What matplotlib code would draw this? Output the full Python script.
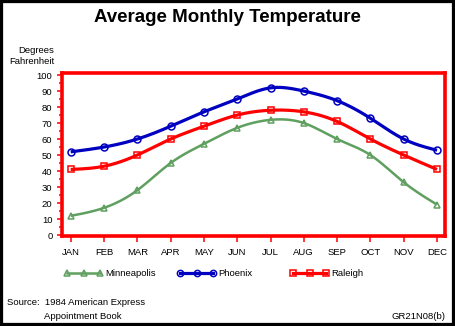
import numpy as np
import matplotlib
matplotlib.use("Agg")
import matplotlib.pyplot as plt
from matplotlib.lines import Line2D
from matplotlib.patches import Rectangle
from matplotlib.ticker import MultipleLocator

plt.rcParams['font.family'] = ['Liberation Sans', 'DejaVu Sans']

months = ["JAN", "FEB", "MAR", "APR", "MAY", "JUN",
          "JUL", "AUG", "SEP", "OCT", "NOV", "DEC"]
minneapolis = [12, 17, 28, 45, 57, 67, 72, 70, 60, 50, 33, 19]
phoenix = [52, 55, 60, 68, 77, 85, 92, 90, 84, 73, 60, 53]
raleigh = [41, 43, 50, 60, 68, 75, 78, 77, 71, 60, 50, 41]

series = [
    ("Minneapolis", minneapolis, "#5f9f5f", "^", 1.8),
    ("Phoenix", phoenix, "#0000c0", "o", 2.3),
    ("Raleigh", raleigh, "#ff0000", "s", 2.3),
]


def natural_spline(x, y, num=300):
    """Natural cubic spline through (x, y), sampled at num points."""
    x = np.asarray(x, float)
    y = np.asarray(y, float)
    n = len(x)
    h = np.diff(x)
    A = np.zeros((n, n))
    rhs = np.zeros(n)
    A[0, 0] = A[-1, -1] = 1.0
    for i in range(1, n - 1):
        A[i, i - 1] = h[i - 1]
        A[i, i] = 2 * (h[i - 1] + h[i])
        A[i, i + 1] = h[i]
        rhs[i] = 3 * ((y[i + 1] - y[i]) / h[i] - (y[i] - y[i - 1]) / h[i - 1])
    c = np.linalg.solve(A, rhs)
    b = (y[1:] - y[:-1]) / h - h * (2 * c[:-1] + c[1:]) / 3
    d = (c[1:] - c[:-1]) / (3 * h)
    xs = np.linspace(x[0], x[-1], num)
    idx = np.clip(np.searchsorted(x, xs, side="right") - 1, 0, n - 2)
    t = xs - x[idx]
    ys = y[idx] + b[idx] * t + c[idx] * t ** 2 + d[idx] * t ** 3
    return xs, ys


fig = plt.figure(figsize=(4.55, 3.26), dpi=100)
ax = fig.add_axes([0.1352, 0.2761, 0.8429, 0.5015])

x = np.arange(len(months))
for name, vals, color, marker, lw in series:
    xs, ys = natural_spline(x, vals)
    ax.plot(xs, ys, color=color, lw=lw, solid_capstyle="butt", zorder=3)
    ax.plot(x, vals, ls="none", marker=marker, ms=5, mfc="none",
            mec=color, mew=1.1, zorder=4)

ax.set_xlim(-0.276, 11.24)
ax.set_ylim(-0.6, 101.6)
ax.set_xticks(x)
ax.set_xticklabels(months)
ax.yaxis.set_major_locator(MultipleLocator(10))
ax.yaxis.set_minor_locator(MultipleLocator(5))
ax.set_yticks(np.arange(0, 101, 10))

for sp in ax.spines.values():
    sp.set_color("#ff0000")
    sp.set_linewidth(2.6)

ax.tick_params(axis="x", colors="#ff0000", labelcolor="black", length=4,
               width=1.1, pad=5, labelsize=6.8)
ax.tick_params(axis="y", which="major", colors="#ff0000", labelcolor="black",
               length=3.5, width=1.1, pad=3, labelsize=6.8)
ax.tick_params(axis="y", which="minor", colors="#ff0000", length=2.5, width=1.1)

fig.text(0.5, 0.945, "Average Monthly Temperature", ha="center", va="center",
         fontsize=13.5, fontweight="bold")
fig.text(0.1187, 0.8466, "Degrees", ha="right", va="center", fontsize=6.8)
fig.text(0.1187, 0.8108, "Fahrenheit", ha="right", va="center", fontsize=6.8)

# legend row below the x axis
leg_y = 1 - 273 / 326
for (name, vals, color, marker, lw), x0 in zip(series, [67, 180, 293]):
    xs_leg = np.array([x0, x0 + 16.5, x0 + 33]) / 455
    fig.add_artist(Line2D(xs_leg, [leg_y] * 3, transform=fig.transFigure,
                          color=color, lw=lw, marker=marker, ms=4.5,
                          mfc="none", mec=color, mew=1.1))
    fig.text((x0 + 38) / 455, leg_y, name, ha="left", va="center",
             fontsize=6.8)

fig.text(7 / 455, 1 - 302.7 / 326, "Source:  1984 American Express",
         ha="left", va="center", fontsize=6.8)
fig.text(44 / 455, 1 - 316.7 / 326, "Appointment Book",
         ha="left", va="center", fontsize=6.8)
fig.text(446 / 455, 1 - 316.7 / 326, "GR21N08(b)",
         ha="right", va="center", fontsize=6.8)

fig.add_artist(Rectangle((0, 0), 1, 1, transform=fig.transFigure,
                         fill=False, edgecolor="black", lw=4.5))

fig.savefig("out.png", dpi=100)
